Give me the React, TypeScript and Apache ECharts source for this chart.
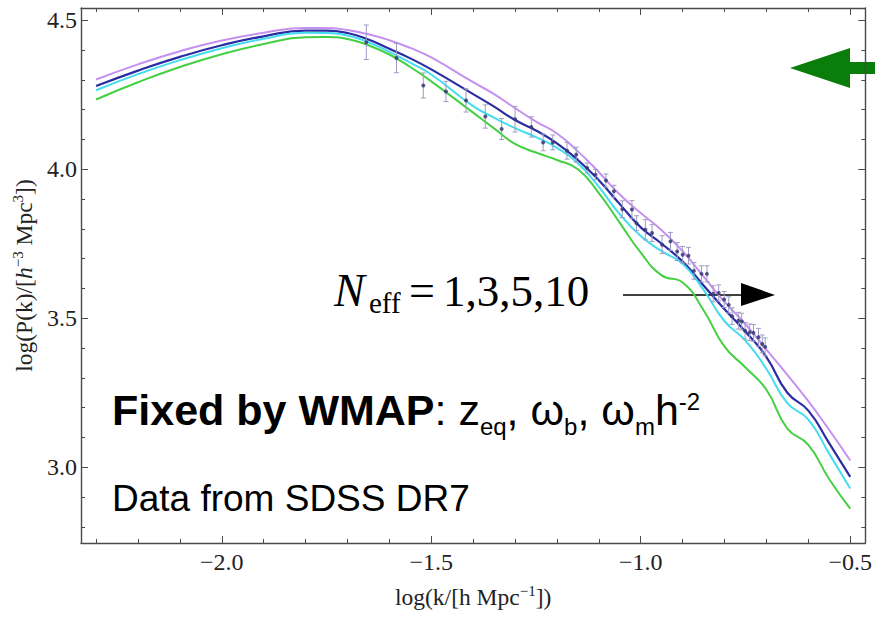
import { useEffect, useRef } from 'react';
import * as echarts from 'echarts';

// log k grid (h/Mpc) on which the model curves are sampled
const kValues = [-2.3, -2.2, -2.1, -2.0, -1.9, -1.8, -1.75, -1.7, -1.65, -1.6, -1.55, -1.5, -1.4, -1.35, -1.3, -1.25, -1.2, -1.15, -1.1, -1.05, -1.0, -0.95, -0.9, -0.85, -0.8, -0.75, -0.7, -0.65, -0.6, -0.55, -0.5];

// model curves log P(k)
const curveViolet = [4.301, 4.352, 4.396, 4.432, 4.458, 4.474, 4.474, 4.467, 4.453, 4.433, 4.407, 4.375, 4.292, 4.252, 4.205, 4.16, 4.12, 4.06, 3.99, 3.915, 3.853, 3.795, 3.725, 3.64, 3.555, 3.48, 3.395, 3.31, 3.222, 3.125, 3.023];
const curveNavy = [4.279, 4.331, 4.377, 4.416, 4.446, 4.465, 4.465, 4.457, 4.435, 4.404, 4.372, 4.335, 4.252, 4.21, 4.165, 4.13, 4.087, 4.031, 3.963, 3.883, 3.805, 3.75, 3.69, 3.61, 3.53, 3.455, 3.37, 3.25, 3.19, 3.08, 2.968];
const curveCyan = [4.265, 4.319, 4.366, 4.406, 4.438, 4.458, 4.457, 4.449, 4.426, 4.394, 4.358, 4.318, 4.212, 4.173, 4.138, 4.108, 4.072, 4.02, 3.941, 3.849, 3.776, 3.725, 3.683, 3.595, 3.49, 3.425, 3.33, 3.215, 3.16, 3.045, 2.929];
const curveGreen = [4.234, 4.292, 4.343, 4.386, 4.42, 4.443, 4.444, 4.437, 4.416, 4.385, 4.343, 4.295, 4.19, 4.137, 4.085, 4.056, 4.031, 4.0, 3.92, 3.82, 3.72, 3.644, 3.62, 3.527, 3.405, 3.335, 3.26, 3.13, 3.075, 2.96, 2.861];

// SDSS DR7 band powers
const sdssK = [-1.655, -1.583, -1.519, -1.465, -1.417, -1.371, -1.332, -1.3, -1.261, -1.233, -1.21, -1.176, -1.154, -1.128, -1.108, -1.083, -1.064, -1.044, -1.021, -1.01, -0.989, -0.973, -0.949, -0.929, -0.913, -0.9, -0.886, -0.873, -0.855, -0.842, -0.827, -0.814, -0.801, -0.79, -0.782, -0.767, -0.759, -0.751, -0.74, -0.731, -0.719, -0.71, -0.703];
const sdssLogP = [4.426, 4.373, 4.281, 4.261, 4.231, 4.177, 4.135, 4.168, 4.142, 4.09, 4.09, 4.062, 4.049, 4.004, 3.982, 3.962, 3.926, 3.866, 3.865, 3.819, 3.797, 3.786, 3.747, 3.758, 3.724, 3.713, 3.71, 3.659, 3.649, 3.649, 3.582, 3.585, 3.563, 3.545, 3.507, 3.492, 3.489, 3.458, 3.453, 3.451, 3.436, 3.414, 3.404];
const sdssErr = [0.058, 0.049, 0.042, 0.034, 0.039, 0.039, 0.035, 0.043, 0.034, 0.028, 0.025, 0.028, 0.025, 0.017, 0.017, 0.022, 0.02, 0.028, 0.03, 0.025, 0.034, 0.028, 0.03, 0.03, 0.03, 0.028, 0.028, 0.028, 0.027, 0.027, 0.027, 0.027, 0.027, 0.027, 0.028, 0.028, 0.028, 0.028, 0.028, 0.028, 0.03, 0.03, 0.03];

// ticks
const xMajorTicks = [-2.0, -1.5, -1.0, -0.5];
const xMinorTicks = [-2.3, -2.2, -2.1, -1.9, -1.8, -1.7, -1.6, -1.4, -1.3, -1.2, -1.1, -0.9, -0.8, -0.7, -0.6];
const yMajorTicks = [3.0, 3.5, 4.0, 4.5];
const yMinorTicks = [2.8, 2.9, 3.1, 3.2, 3.3, 3.4, 3.6, 3.7, 3.8, 3.9, 4.1, 4.2, 4.3, 4.4];

const X_MIN = -2.336;
const X_MAX = -0.464;
const Y_MIN = 2.746;
const Y_MAX = 4.541;

const AXIS = '#4a4a4a';
const TXT = '#222';
const SERIF = '"Liberation Serif", "Times New Roman", serif';
const SANS = '"Liberation Sans", Arial, sans-serif';

const fmtTick = (v: number) => (v < 0 ? '\u2212' + Math.abs(v).toFixed(1) : v.toFixed(1));

function axisDef(kind: 'x' | 'y', position: string, ticks: number[], len: number, labels: boolean, line: boolean, extra: any = {}) {
  return {
    type: 'value',
    position,
    min: kind === 'x' ? X_MIN : Y_MIN,
    max: kind === 'x' ? X_MAX : Y_MAX,
    axisLine: { show: line, onZero: false, lineStyle: { color: AXIS, width: 1.4 } },
    axisTick: { show: true, inside: true, length: len, customValues: ticks, lineStyle: { color: AXIS, width: 1 } },
    axisLabel: labels
      ? {
          show: true,
          customValues: ticks,
          formatter: (v: number) => fmtTick(v),
          fontFamily: SERIF,
          fontSize: 24,
          color: TXT,
          margin: kind === 'x' ? 7 : 4,
        }
      : { show: false },
    splitLine: { show: false },
    minorTick: { show: false },
    ...extra,
  };
}

const nameRich = {
  t: { fontFamily: SERIF, fontSize: 23.5, color: TXT, verticalAlign: 'middle' },
  i: { fontFamily: SERIF, fontSize: 23.5, fontStyle: 'italic', color: TXT, verticalAlign: 'middle' },
  s: { fontFamily: SERIF, fontSize: 15, color: TXT, verticalAlign: 'middle', padding: [0, 0, 12, 0] },
};

function txt(text: string, x: number, y: number, font: string, color = '#000') {
  return {
    type: 'text',
    x,
    y,
    silent: true,
    style: { text, font, fill: color, align: 'left', textAlign: 'left', verticalAlign: 'middle', textVerticalAlign: 'middle' },
  };
}

export default function App() {
  const ref = useRef<HTMLDivElement>(null);

  useEffect(() => {
    if (!ref.current) return;
    const chart = echarts.init(ref.current, null, { renderer: 'svg' });

    const mk = (vals: number[]) => kValues.map((k, i) => [k, vals[i]]);
    const lineSeries = (name: string, vals: number[], color: string, width: number) => ({
      type: 'line',
      name,
      data: mk(vals),
      xAxisIndex: 0,
      yAxisIndex: 0,
      smooth: 0.5,
      showSymbol: false,
      symbol: 'none',
      lineStyle: { color, width },
      z: 2,
    });

    const mainTok = (weight: string) => ({ fontFamily: SANS, fontSize: 43, fontWeight: weight, fill: '#000', lineHeight: 60, verticalAlign: 'middle' });
    const smallTok = (pad: number[]) => ({ fontFamily: SANS, fontSize: 24, fill: '#000', lineHeight: 24, padding: pad, verticalAlign: 'middle' });

    chart.setOption({
      animation: false,
      backgroundColor: '#fff',
      grid: { left: 81, top: 8, width: 786, height: 535, containLabel: false },
      xAxis: [
        axisDef('x', 'bottom', xMajorTicks, 7, true, true, {
          name: '{t|log(k/[h Mpc}{s|\u22121}{t|])}',
          nameLocation: 'middle',
          nameGap: 40,
          nameTextStyle: { rich: nameRich },
        }),
        axisDef('x', 'bottom', xMinorTicks, 4, false, false),
        axisDef('x', 'top', xMajorTicks, 7, false, true),
        axisDef('x', 'top', xMinorTicks, 4, false, false),
      ],
      yAxis: [
        axisDef('y', 'left', yMajorTicks, 7, true, true, {
          name: '{t|log(P(k)/[}{i|h}{s|\u22123}{t| Mpc}{s|3}{t|])}',
          nameLocation: 'middle',
          nameGap: 42,
          nameTextStyle: { rich: nameRich },
        }),
        axisDef('y', 'left', yMinorTicks, 4, false, false),
        axisDef('y', 'right', yMajorTicks, 7, false, true),
        axisDef('y', 'right', yMinorTicks, 4, false, false),
      ],
      series: [
        lineSeries('N_eff = 1', curveViolet, '#c590ef', 2),
        lineSeries('N_eff = 3', curveNavy, '#2b2ca3', 2.2),
        lineSeries('N_eff = 5', curveCyan, '#45dcef', 2),
        lineSeries('N_eff = 10', curveGreen, '#45d043', 2),
        {
          type: 'custom',
          name: 'SDSS DR7 errors',
          xAxisIndex: 0,
          yAxisIndex: 0,
          data: sdssK.map((k, i) => [k, sdssLogP[i], sdssErr[i]]),
          encode: { x: 0, y: 1 },
          z: 3,
          renderItem: (_params: any, api: any) => {
            const x = api.value(0);
            const y = api.value(1);
            const e = api.value(2);
            const top = api.coord([x, y + e]);
            const bot = api.coord([x, y - e]);
            const cap = 2.5;
            const style = { stroke: '#9d9dc4', lineWidth: 1 };
            return {
              type: 'group',
              children: [
                { type: 'line', shape: { x1: top[0], y1: top[1], x2: bot[0], y2: bot[1] }, style },
                { type: 'line', shape: { x1: top[0] - cap, y1: top[1], x2: top[0] + cap, y2: top[1] }, style },
                { type: 'line', shape: { x1: bot[0] - cap, y1: bot[1], x2: bot[0] + cap, y2: bot[1] }, style },
              ],
            };
          },
        },
        {
          type: 'scatter',
          name: 'SDSS DR7',
          xAxisIndex: 0,
          yAxisIndex: 0,
          data: sdssK.map((k, i) => [k, sdssLogP[i]]),
          symbolSize: 4,
          itemStyle: { color: '#2e2e6e' },
          z: 4,
        },
      ],
      graphic: [
        // N_eff annotation
        txt('N', 334, 290.5, `italic 46px ${SERIF}`),
        txt('eff', 369, 303, `29px ${SERIF}`),
        txt('=', 409, 290.5, `46px ${SERIF}`),
        txt('1,3,5,10', 443, 290.8, `45px ${SERIF}`),
        { type: 'line', silent: true, shape: { x1: 623, y1: 295, x2: 745, y2: 295 }, style: { stroke: '#000', lineWidth: 1.3 } },
        { type: 'polygon', silent: true, shape: { points: [[741, 283], [741, 306], [775, 295]] }, style: { fill: '#000' } },
        // green arrow
        { type: 'polygon', silent: true, shape: { points: [[790, 68], [850, 48], [850, 88]] }, style: { fill: '#0b7d0b' } },
        { type: 'rect', silent: true, shape: { x: 849, y: 62, width: 30, height: 12 }, style: { fill: '#0b7d0b' } },
        // Fixed by WMAP
        {
          type: 'text',
          x: 112,
          y: 410.4,
          silent: true,
          style: {
            text: '{b|Fixed by WMAP}{r|: z}{s|eq}{r|, \u03c9}{s|b}{r|, \u03c9}{s|m}{r|h}{p|-2}',
            rich: {
              b: mainTok('bold'),
              r: mainTok('normal'),
              s: smallTok([32, 0, 0, 0]),
              p: smallTok([0, 0, 18, 0]),
            },
            fill: '#000',
            align: 'left',
            textAlign: 'left',
            verticalAlign: 'middle',
            textVerticalAlign: 'middle',
          },
        },
        txt('Data from SDSS DR7', 112, 498.9, `37px ${SANS}`),
      ],
    });

    return () => chart.dispose();
  }, []);

  return <div ref={ref} style={{ position: 'absolute', left: 0, top: 0, width: 875, height: 617 }} />;
}
